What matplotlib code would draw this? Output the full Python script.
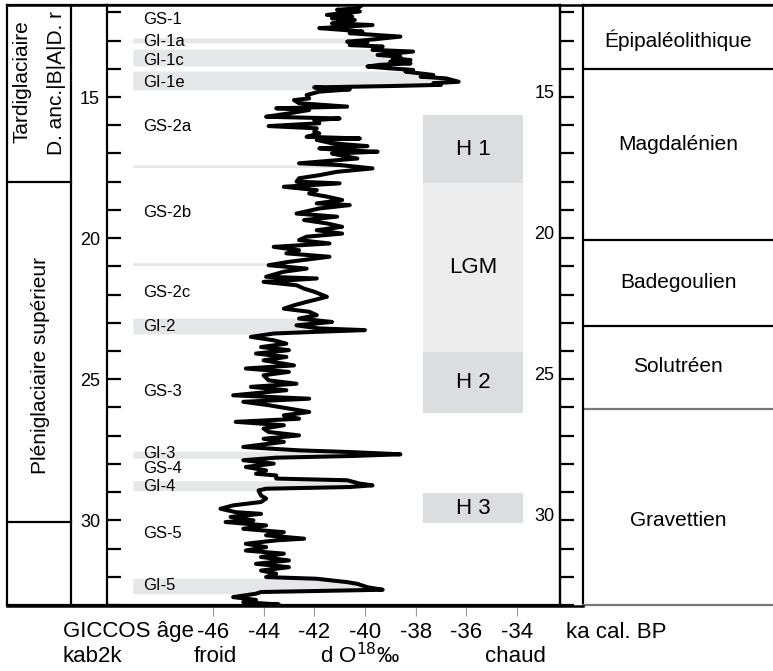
import matplotlib
matplotlib.use('Agg')
import matplotlib.pyplot as plt
import matplotlib.ticker as ticker
import matplotlib.transforms as mtransforms
from matplotlib.lines import Line2D
from matplotlib import font_manager
import numpy as np

# --- data -------------------------------------------------------------
# NGRIP-type d18O record (ka cal BP, permil)
age_ka = [
    11.74, 11.86, 11.91, 11.97, 12.09, 12.15, 12.21, 12.27, 12.39, 12.45,
    12.56, 12.62, 12.68, 12.74, 12.86, 12.98, 13.04, 13.10, 13.16, 13.21,
    13.33, 13.39, 13.51, 13.57, 13.63, 13.69, 13.75, 13.81, 13.86, 13.92,
    13.98, 14.04, 14.10, 14.22, 14.28, 14.34, 14.46, 14.51, 14.57, 14.61,
    14.66, 14.73, 14.81, 14.93, 15.05, 15.11, 15.22, 15.34, 15.40, 15.46,
    15.58, 15.70, 15.76, 15.82, 15.93, 16.03, 16.11, 16.23, 16.29, 16.41,
    16.47, 16.52, 16.64, 16.74, 16.82, 16.88, 16.94, 17.00,
    17.06, 17.18, 17.35, 17.41, 17.53, 17.65, 17.77, 17.88, 18.00, 18.06,
    18.18, 18.30, 18.42, 18.53, 18.65, 18.77, 18.83, 18.95, 19.13, 19.24,
    19.36, 19.48, 19.60, 19.72, 19.84, 19.95, 20.07, 20.19, 20.31, 20.43,
    20.54, 20.66, 20.84, 20.96, 21.08, 21.19, 21.37, 21.43, 21.55, 21.67,
    21.79, 21.90, 22.08, 22.26,
    22.38, 22.50, 22.61, 22.73, 22.85, 22.97, 23.09, 23.20, 23.26, 23.32,
    23.38, 23.50, 23.62, 23.74, 23.86, 23.97, 24.09, 24.21, 24.33, 24.51,
    24.62, 24.74, 24.86, 25.04, 25.16, 25.27, 25.39, 25.57, 25.69, 25.80,
    25.92, 26.04, 26.16, 26.28, 26.40, 26.51, 26.63, 26.75, 26.87, 26.99,
    27.11, 27.22, 27.40, 27.52, 27.58, 27.66, 27.72, 27.78,
    27.87, 27.99, 28.11, 28.23, 28.35, 28.41, 28.52, 28.58, 28.70, 28.76,
    28.82, 28.88, 28.94, 29.12, 29.23, 29.35, 29.47, 29.59, 29.71, 29.77,
    29.88, 30.00, 30.06, 30.18, 30.30, 30.42, 30.53, 30.65, 30.71, 30.83,
    30.95, 31.07, 31.18, 31.30, 31.42, 31.54, 31.66, 31.78, 31.89, 32.01,
    32.07, 32.19, 32.25, 32.37, 32.46, 32.54, 32.60, 32.72, 32.82, 32.90,
    32.98, 33.05]
d18o = [
    -40.1, -40.3, -41.1, -40.2, -41.5, -40.5, -41.3, -40.4, -41.3, -39.7,
    -41.8, -40.9, -40.1, -40.6, -38.6, -39.9, -40.7, -39.9, -40.6, -39.3,
    -39.7, -38.1, -39.5, -38.6, -38.9, -38.2, -39.0, -38.2, -39.4, -39.9,
    -39.1, -38.1, -38.4, -37.3, -37.8, -36.8, -36.3, -37.3, -37.0, -38.9,
    -42.0, -40.6, -41.8, -42.3, -42.2, -42.8, -42.6, -40.7, -43.5, -42.2,
    -43.0, -43.9, -41.0, -42.0, -41.8, -43.8, -41.9, -42.0, -41.8, -42.3,
    -40.2, -41.9, -41.3, -39.9, -41.8, -41.0, -39.5, -41.3,
    -41.0, -40.3, -42.6, -41.0, -39.7, -41.1, -41.8, -42.6, -42.7, -41.0,
    -43.2, -41.9, -42.2, -41.5, -40.9, -41.9, -40.6, -41.8, -42.7, -41.1,
    -42.4, -41.5, -40.9, -41.9, -40.9, -42.3, -42.6, -41.4, -43.6, -42.6,
    -43.1, -41.4, -43.0, -43.8, -42.3, -43.2, -43.9, -41.9, -44.0, -42.7,
    -42.4, -42.0, -41.5, -42.3,
    -42.8, -43.2, -42.2, -41.9, -42.6, -41.3, -42.7, -41.8, -40.0, -41.9,
    -43.6, -44.5, -43.6, -43.1, -44.1, -43.0, -44.3, -43.1, -44.0, -42.8,
    -44.7, -43.0, -44.0, -43.8, -42.7, -44.5, -43.1, -45.2, -42.2, -44.8,
    -43.8, -43.0, -42.2, -43.2, -42.6, -45.1, -43.2, -44.0, -43.8, -42.6,
    -44.0, -43.2, -44.8, -42.6, -40.6, -38.6, -40.5, -43.5,
    -44.8, -43.6, -44.7, -43.9, -44.3, -43.5, -43.5, -40.7, -40.2, -39.7,
    -40.6, -43.9, -44.2, -44.1, -43.9, -44.1, -45.2, -45.7, -45.1, -44.1,
    -45.3, -44.4, -45.5, -43.9, -44.8, -43.2, -43.9, -42.4, -43.5, -44.7,
    -43.9, -44.7, -43.2, -44.1, -43.0, -44.3, -43.0, -44.1, -43.5, -43.9,
    -41.9, -40.7, -40.3, -39.9, -39.3, -44.1, -44.3, -45.2, -44.3, -44.8,
    -43.4, -44.3]

# Greenland interstadials (shaded) and GS/GI labels
gi_start = [12.90, 13.30, 14.08, 17.40, 20.87, 22.84, 27.55, 28.60, 32.05]
gi_end = [13.09, 13.90, 14.75, 17.50, 20.97, 23.40, 27.80, 28.95, 32.60]
event_labels = ['GS-1', 'GI-1a', 'GI-1c', 'GI-1e', 'GS-2a', 'GS-2b', 'GS-2c',
                'GI-2', 'GS-3', 'GI-3', 'GS-4', 'GI-4', 'GS-5', 'GI-5']
event_ages = [12.27, 13.05, 13.69, 14.47, 16.06, 19.11, 21.91,
              23.12, 25.43, 27.62, 28.16, 28.79, 30.46, 32.30]

# Heinrich events and LGM
heinrich_names = ['H 1', 'LGM', 'H 2', 'H 3']
heinrich_start = [15.64, 18.05, 24.04, 29.04]
heinrich_end = [18.05, 24.04, 26.20, 30.10]

# cultures
culture_names = ['Épipaléolithique', 'Magdalénien', 'Badegoulien', 'Solutréen', 'Gravettien']
culture_bounds = [11.74, 14.0, 20.07, 23.1, 26.06, 33.0]
culture_label_ages = [13.0, 16.7, 21.56, 24.54, 30.0]

# chronostratigraphy
strat_bounds = [11.74, 18.0, 30.07]

x_ticks = [-46, -44, -42, -40, -38, -36, -34]
age_labels = [15, 20, 25, 30]

AGE_TOP, AGE_BOT = 11.74, 33.0
X_MIN, X_MAX = -50.18, -32.30

# --- figure -----------------------------------------------------------
plt.rcParams['font.family'] = ['Liberation Sans', 'DejaVu Sans']
names = {f.name for f in font_manager.fontManager.ttflist}
narrow = 'Liberation Sans Narrow' if 'Liberation Sans Narrow' in names else 'Liberation Sans'

W, H = 773, 671
fig = plt.figure(figsize=(W / 100, H / 100), dpi=100)


def box(x0, y0, x1, y1):
    return [x0 / W, 1 - y1 / H, (x1 - x0) / W, (y1 - y0) / H]


axL = fig.add_axes(box(7, 5, 107, 605))
axR = fig.add_axes(box(583, 5, 773, 605))
ax = fig.add_axes(box(107, 5, 560, 605))
ax.patch.set_visible(False)

# main panel
ax.set_xlim(X_MIN, X_MAX)
ax.set_ylim(AGE_BOT, AGE_TOP)
for a0, a1 in zip(gi_start, gi_end):
    yy = np.linspace(a0, a1, 40)
    xx = np.interp(yy, age_ka, d18o)
    ax.fill_betweenx(yy, -49.16, xx, color='#E6E7E8', lw=0, zorder=1)
ax.plot(d18o, age_ka, color='black', lw=2.9, zorder=3)

for name, a0, a1 in zip(heinrich_names, heinrich_start, heinrich_end):
    col = '#EDEDED' if name == 'LGM' else '#DCDDDF'
    ax.barh((a0 + a1) / 2, -33.76 - -37.71, left=-37.71, height=a1 - a0,
            color=col, lw=0, zorder=1)
    ax.text(-35.73, (a0 + a1) / 2, name, ha='center', va='center', fontsize=16, zorder=4)

for lab, a in zip(event_labels, event_ages):
    ax.text(-48.76, a, lab, ha='left', va='center', fontsize=12, zorder=4)

for s in ['left', 'right', 'top', 'bottom']:
    ax.spines[s].set_linewidth(1.6)
ax.yaxis.set_major_locator(ticker.MultipleLocator(1))
ax.yaxis.set_major_formatter(ticker.FuncFormatter(
    lambda v, p: '%d' % v if int(round(v)) in age_labels else ''))
ax.tick_params(axis='y', direction='in', length=10, width=1.6, labelsize=13, pad=5)
ax.set_xticks(x_ticks)
ax.set_xticklabels([str(t) for t in x_ticks], fontfamily=narrow)
ax.tick_params(axis='x', direction='out', length=8, width=0.8, color='#999999',
               labelsize=16, pad=4)

ax2 = ax.twinx()
ax2.patch.set_visible(False)
ax2.set_ylim(AGE_BOT, AGE_TOP)
for s in ['left', 'top', 'bottom']:
    ax2.spines[s].set_visible(False)
ax2.spines['right'].set_linewidth(1.6)
ax2.yaxis.set_major_locator(ticker.MultipleLocator(1))
ax2.tick_params(axis='y', direction='out', length=10, width=1.6, labelright=False)
tr = mtransforms.blended_transform_factory(ax.transAxes, ax.transData)
for a in age_labels:
    ax.text(0.988, a - 0.12, str(a), transform=tr, ha='right', va='center', fontsize=13)

# left stratigraphic column
axL.set_xlim(0, 1)
axL.set_ylim(AGE_BOT, AGE_TOP)
axL.set_xticks([])
axL.set_yticks([])
axL.spines['right'].set_visible(False)
for s in ['left', 'top', 'bottom']:
    axL.spines[s].set_linewidth(1.6)
axL.axvline(0.64, color='black', lw=1.6)
for b in strat_bounds[1:]:
    axL.plot([0, 0.64], [b, b], color='black', lw=1.6)
axL.text(0.15, 14.45, 'Tardiglaciaire', rotation=90, ha='center', va='center', fontsize=15)
axL.text(0.50, 17.05, 'D. anc.|B|A|D. r', rotation=90, ha='center', va='bottom',
         fontsize=15, clip_on=True)
axL.text(0.33, 24.5, 'Pléniglaciaire supérieur', rotation=90, ha='center', va='center',
         fontsize=15)

# right culture column
axR.set_xlim(0, 1)
axR.set_ylim(AGE_BOT, AGE_TOP)
axR.set_xticks([])
axR.set_yticks([])
axR.spines['right'].set_visible(False)
axR.spines['left'].set_linewidth(1.6)
axR.spines['top'].set_linewidth(1.6)
axR.spines['bottom'].set_color('#777777')
axR.spines['bottom'].set_linewidth(1.6)
for i, b in enumerate(culture_bounds[1:-1]):
    axR.axhline(b, color='#777777' if i == 3 else 'black', lw=1.6)
for name, a in zip(culture_names, culture_label_ages):
    axR.text(0.5, a, name, ha='center', va='center', fontsize=15)

# frame lines crossing the gaps
fig.add_artist(Line2D([7 / W, 1], [1 - 5 / H, 1 - 5 / H], color='black', lw=1.8))
fig.add_artist(Line2D([7 / W, 583 / W], [1 - 605.5 / H, 1 - 605.5 / H], color='black', lw=1.8))

# bottom captions
fig.text(63 / W, 1 - 632 / H, 'GICCOS âge', ha='left', va='center', fontsize=16, fontfamily=narrow)
fig.text(63 / W, 1 - 657 / H, 'kab2k', ha='left', va='center', fontsize=16, fontfamily=narrow)
fig.text(566 / W, 1 - 632 / H, 'ka cal. BP', ha='left', va='center', fontsize=16, fontfamily=narrow)
fig.text(215 / W, 1 - 656 / H, 'froid', ha='center', va='center', fontsize=16, fontfamily=narrow)
fig.text(515 / W, 1 - 656 / H, 'chaud', ha='center', va='center', fontsize=16, fontfamily=narrow)
fig.text(360 / W, 1 - 656 / H, 'd O$^{18}$‰', ha='center', va='center', fontsize=16,
         fontfamily=narrow)

fig.savefig('out.png', dpi=100)
